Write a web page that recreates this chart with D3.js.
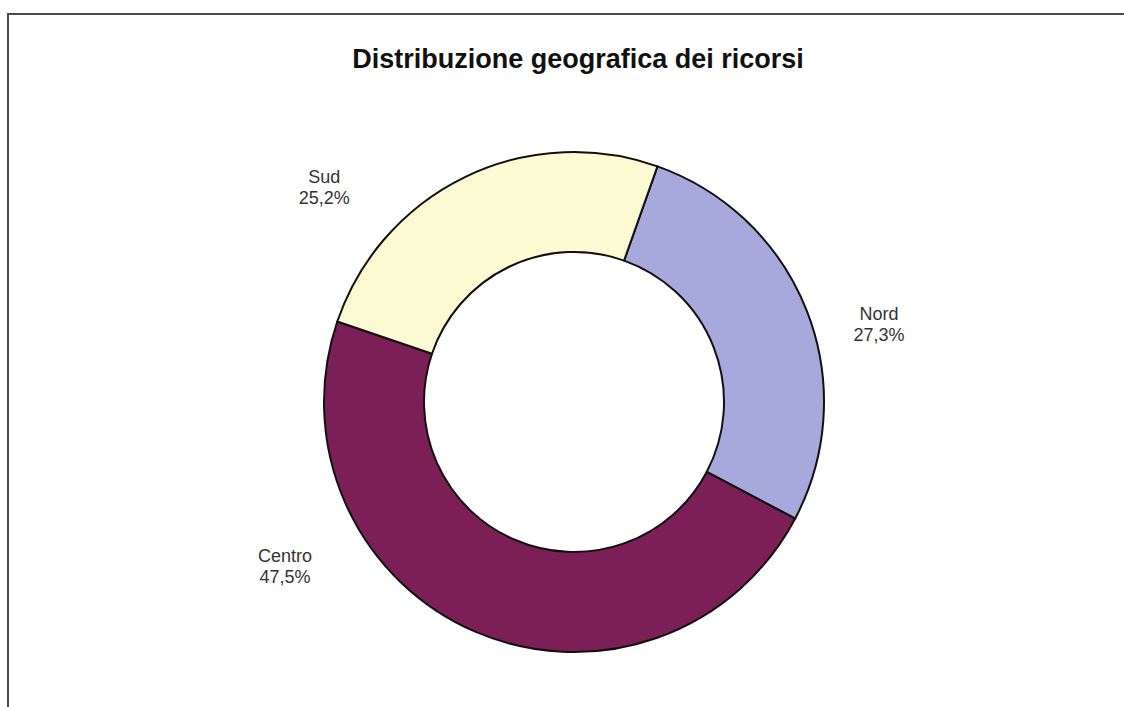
<!DOCTYPE html>
<html>
<head>
<meta charset="utf-8">
<script src="https://cdn.jsdelivr.net/npm/d3@7"></script>
<style>
  html, body { margin: 0; padding: 0; background: #fff; }
  svg { display: block; }
</style>
</head>
<body>
<div id="chart"></div>
<script>
// ---- data ----
const categories = ["Nord", "Centro", "Sud"];
const values = [27.3, 47.5, 25.2];
const valueLabels = ["27,3%", "47,5%", "25,2%"];
const title = "Distribuzione geografica dei ricorsi";

// ---- style / layout ----
const colors = ["#a7a9dd", "#7b1f56", "#fbfad3"];
const width = 1124, height = 707;
const cx = 574, cy = 402;
const outerR = 250, innerR = 150;
const startDeg = 19.5;
// label placement in polar terms (degrees clockwise from 12 o'clock, distance from centre)
const labelAngles = [75.6, 240.5, 310.8];
const labelDist = [315, 332, 330];

const svg = d3.select("#chart").append("svg")
  .attr("width", width).attr("height", height);

// frame
svg.append("rect")
  .attr("x", 8).attr("y", 14)
  .attr("width", width + 20).attr("height", height + 20)
  .attr("fill", "#fff").attr("stroke", "#4a4a4a").attr("stroke-width", 2);

// title
svg.append("text")
  .attr("x", 578).attr("y", 68)
  .attr("text-anchor", "middle")
  .attr("font-family", "Liberation Sans, Arial, sans-serif")
  .attr("font-weight", "bold")
  .attr("font-size", 27)
  .attr("fill", "#111")
  .text(title);

const data = categories.map((c, i) => ({ name: c, value: values[i], label: valueLabels[i], color: colors[i], i }));

const start = startDeg * Math.PI / 180;
const pie = d3.pie().value(d => d.value).sort(null)
  .startAngle(start).endAngle(start + 2 * Math.PI);
const arc = d3.arc().innerRadius(innerR).outerRadius(outerR);

const g = svg.append("g").attr("transform", `translate(${cx},${cy})`);
g.selectAll("path.slice")
  .data(pie(data))
  .join("path")
  .attr("class", "slice")
  .attr("d", arc)
  .attr("fill", d => d.data.color)
  .attr("stroke", "#111")
  .attr("stroke-width", 2)
  .attr("stroke-linejoin", "round");

// labels
const labels = g.selectAll("g.lbl")
  .data(data)
  .join("g")
  .attr("class", "lbl")
  .attr("transform", d => {
    const p = d3.pointRadial(labelAngles[d.i] * Math.PI / 180, labelDist[d.i]);
    return `translate(${p[0]},${p[1]})`;
  });
labels.append("text")
  .attr("text-anchor", "middle")
  .attr("font-family", "Liberation Sans, Arial, sans-serif")
  .attr("font-size", 18)
  .attr("fill", "#333")
  .selectAll("tspan")
  .data(d => [d.name, d.label])
  .join("tspan")
  .attr("x", 0)
  .attr("y", (t, j) => j === 0 ? -3.5 : 17.5)
  .text(t => t);
</script>
</body>
</html>
